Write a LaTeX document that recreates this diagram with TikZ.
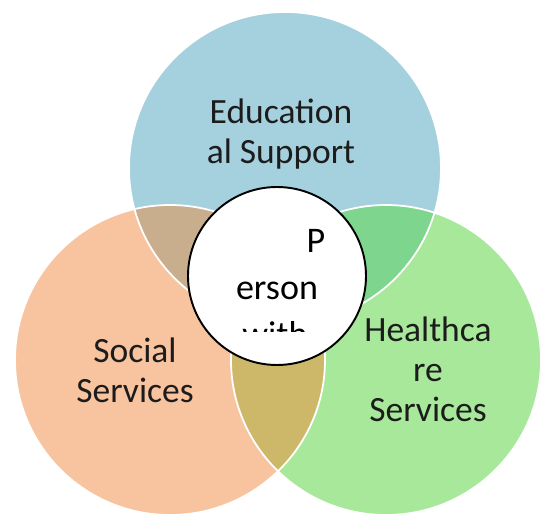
\documentclass[tikz,border=0pt]{standalone}
\usepackage{fontspec}
\setmainfont{Carlito}
\definecolor{edublue}{HTML}{A5D1DF}
\definecolor{socorange}{HTML}{F8C4A0}
\definecolor{healthgreen}{HTML}{A8E89A}
\definecolor{edusoc}{HTML}{C9AE8E}
\definecolor{eduhealth}{HTML}{7ED68E}
\definecolor{sochealth}{HTML}{CDB86A}
\definecolor{labeltext}{HTML}{1C1C1C}
\begin{document}
\begin{tikzpicture}[
    rim/.style={draw=white, line width=1pt},
    area/.style={align=center, text=labeltext,
      font=\fontsize{20.2}{22.8}\selectfont},
    person/.style={circle, draw=black, line width=1.1pt, fill=white,
      minimum size=3.56cm, inner sep=0pt},
    persontext/.style={anchor=base, text=black,
      font=\fontsize{20.5}{26.7}\selectfont}
  ]
  \useasboundingbox (0,0) rectangle (10.84,10.30);

  \fill[edublue] (5.70,6.94) circle [radius=3.12];
  \fill[socorange] (3.40,3.10) circle [radius=3.10];
  \fill[healthgreen] (7.72,3.10) circle [radius=3.10];
  \begin{scope}
    \clip (5.70,6.94) circle [radius=3.12];
    \fill[edusoc] (3.40,3.10) circle [radius=3.10];
    \fill[eduhealth] (7.72,3.10) circle [radius=3.10];
  \end{scope}
  \begin{scope}
    \clip (3.40,3.10) circle [radius=3.10];
    \fill[sochealth] (7.72,3.10) circle [radius=3.10];
  \end{scope}
  \draw[rim] (5.70,6.94) circle [radius=3.12];
  \draw[rim] (7.72,3.10) circle [radius=3.10];
  \draw[rim] (3.40,3.10) circle [radius=3.10];

  \node[area] (edu) at (5.62,7.62) {Education\\al Support};
  \node[area] (soc) at (2.70,2.90) {Social\\Services};
  \node[area] (health) at (8.56,2.92) {Healthca\\re\\Services};

  \node[person] (person) at (5.54,4.78) {};
  \node[persontext] (p1) at (6.32,5.24) {P};
  \node[persontext] (p2) at (5.54,4.30) {erson};
  \begin{scope}
    \clip (3.70,3.66) rectangle (7.40,6.60);
    \node[persontext] (p3) at (5.50,3.36) {with};
  \end{scope}
\end{tikzpicture}
\end{document}
